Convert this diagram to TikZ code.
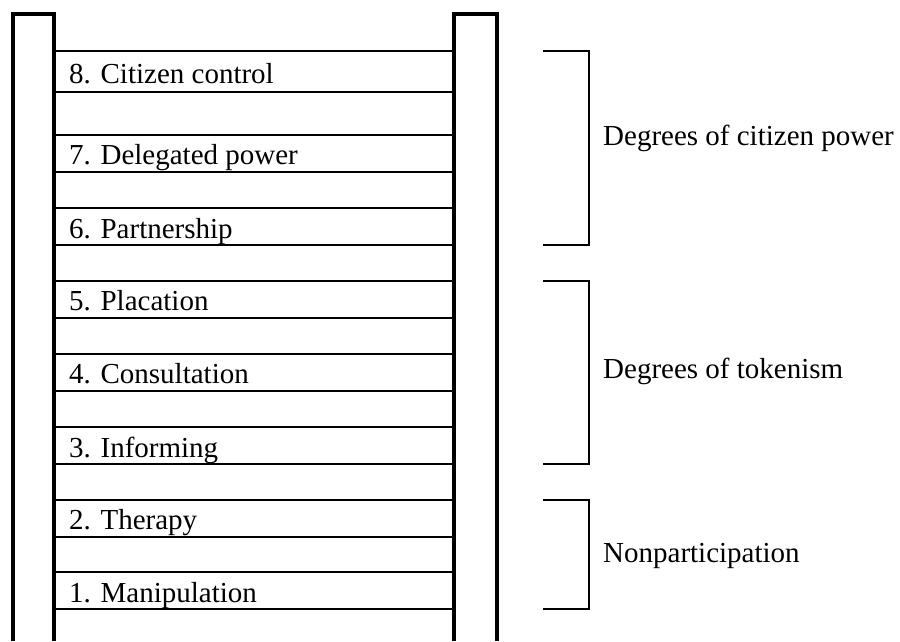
\documentclass[tikz,border=0pt]{standalone}
\usepackage{fontspec}
\setmainfont{Liberation Serif}
\begin{document}
\begin{tikzpicture}[x=1pt,y=-1pt,
  rail/.style={line width=3.3pt,line join=miter},
  rung/.style={line width=2pt},
  brk/.style={line width=2pt,line join=miter},
  lbl/.style={anchor=base west,inner sep=0pt,font=\fontsize{29}{34}\selectfont},
]
\useasboundingbox (0,0) rectangle (900,641);
% rails
\coordinate (la) at (13,641); \coordinate (lb) at (13,14);
\coordinate (lc) at (54,14);  \coordinate (ld) at (54,641);
\coordinate (ra) at (454,641); \coordinate (rb) at (454,14);
\coordinate (rc) at (497,14);  \coordinate (rd) at (497,641);
\draw[rail] (la) -- (lb) -- (lc) -- (ld);
\draw[rail] (ra) -- (rb) -- (rc) -- (rd);
% rungs
\foreach \y [count=\i] in {51,92,135,172,208,245,281,318,354,391,427,464,500,537,572,609}{
  \coordinate (rl\i) at (54,\y);
  \coordinate (rr\i) at (454,\y);
  \draw[rung] (rl\i) -- (rr\i);
}
% step labels
\node[lbl] (s8) at (69,83)  {8. Citizen control};
\node[lbl] (s7) at (69,164) {7. Delegated power};
\node[lbl] (s6) at (69,238) {6. Partnership};
\node[lbl] (s5) at (69,310) {5. Placation};
\node[lbl] (s4) at (69,383) {4. Consultation};
\node[lbl] (s3) at (69,457) {3. Informing};
\node[lbl] (s2) at (69,529) {2. Therapy};
\node[lbl] (s1) at (69,602) {1. Manipulation};
% brackets
\coordinate (b1a) at (543,51);  \coordinate (b1b) at (589,51);
\coordinate (b1c) at (589,245); \coordinate (b1d) at (543,245);
\coordinate (b2a) at (543,281); \coordinate (b2b) at (589,281);
\coordinate (b2c) at (589,464); \coordinate (b2d) at (543,464);
\coordinate (b3a) at (543,500); \coordinate (b3b) at (589,500);
\coordinate (b3c) at (589,609); \coordinate (b3d) at (543,609);
\draw[brk] (b1a) -- (b1b) -- (b1c) -- (b1d);
\draw[brk] (b2a) -- (b2b) -- (b2c) -- (b2d);
\draw[brk] (b3a) -- (b3b) -- (b3c) -- (b3d);
% group labels
\node[lbl] (g1) at (603,145) {Degrees of citizen power};
\node[lbl] (g2) at (603,378) {Degrees of tokenism};
\node[lbl] (g3) at (603,562) {Nonparticipation};
\end{tikzpicture}
\end{document}
